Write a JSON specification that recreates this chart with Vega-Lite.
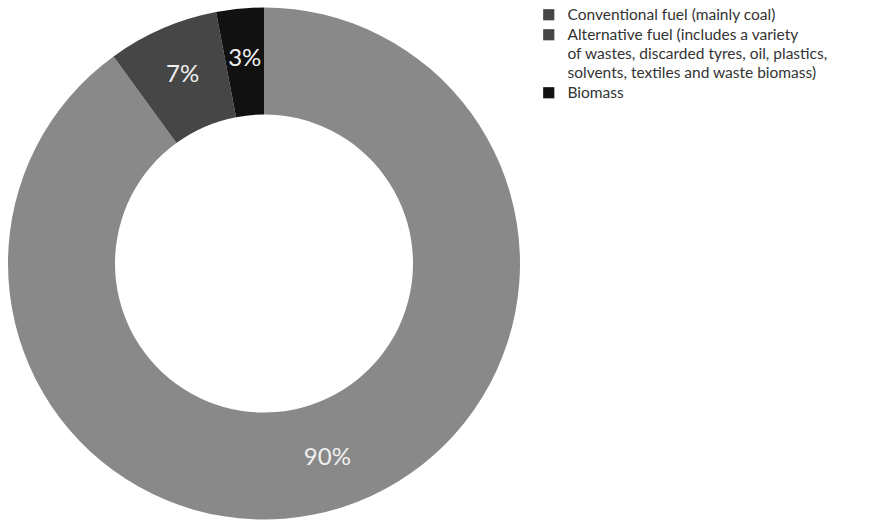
{
  "$schema": "https://vega.github.io/schema/vega-lite/v6.json",
  "width": 528,
  "height": 527,
  "padding": 0,
  "autosize": {"type": "pad"},
  "background": "white",
  "config": {"view": {"stroke": null}},
  "data": {"values": [
    {"fuel": "Conventional fuel (mainly coal)", "share": 90, "order": 1, "label": "90%"},
    {"fuel": "Alternative fuel (includes a variety|of wastes, discarded tyres, oil, plastics,|solvents, textiles and waste biomass)", "share": 7, "order": 2, "label": "7%"},
    {"fuel": "Biomass", "share": 3, "order": 3, "label": "3%"}
  ]},
  "layer": [
    {
      "mark": {"type": "arc", "innerRadius": 0, "outerRadius": 0.01},
      "encoding": {
        "theta": {"field": "share", "type": "quantitative", "stack": true},
        "order": {"field": "order", "type": "quantitative"},
        "color": {
          "field": "fuel", "type": "nominal", "sort": {"field": "order"},
          "scale": {"range": ["#464646", "#464646", "#111111"]},
          "legend": {
            "title": null, "orient": "none", "legendX": 541, "legendY": 7,
            "symbolType": "square", "symbolSize": 125, "symbolStrokeWidth": 0,
            "labelFont": "Lato", "labelFontSize": 15.5, "labelColor": "#333333", "labelLimit": 400,
            "labelOffset": 11, "rowPadding": 3,
            "labelExpr": "split(datum.label, '|')",
            "encode": {
              "labels": {"update": {"lineHeight": {"value": 19}}}
            }
          }
        }
      }
    },
    {
      "mark": {"type": "arc", "innerRadius": 149, "outerRadius": 256},
      "encoding": {
        "theta": {"field": "share", "type": "quantitative", "stack": true},
        "order": {"field": "order", "type": "quantitative"},
        "fill": {
          "field": "fuel", "type": "nominal", "sort": {"field": "order"},
          "scale": {"range": ["#898989", "#464646", "#111111"]},
          "legend": null
        }
      }
    },
    {
      "mark": {"type": "text", "radius": 205, "fontSize": 24, "font": "Lato", "color": "#f0f0f0"},
      "encoding": {
        "theta": {"field": "share", "type": "quantitative", "stack": true},
        "order": {"field": "order", "type": "quantitative"},
        "text": {"field": "label"}
      }
    }
  ]
}
